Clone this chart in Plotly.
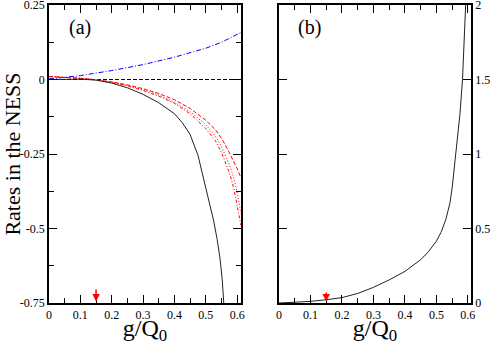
import plotly.graph_objects as go

# panel (a): rates vs g/Q0
g_black = [0, 0.05, 0.1, 0.15, 0.2, 0.25, 0.3, 0.35, 0.4, 0.425, 0.45, 0.475, 0.5, 0.51, 0.525, 0.536, 0.545, 0.552, 0.557]
r_black = [0, 0.001, 0.001, -0.002, -0.012, -0.028, -0.05, -0.078, -0.115, -0.145, -0.185, -0.255, -0.36, -0.41, -0.475, -0.537, -0.6, -0.67, -0.75]

g_red = [0, 0.05, 0.1, 0.15, 0.2, 0.25, 0.3, 0.35, 0.4, 0.45, 0.5, 0.53, 0.55, 0.57, 0.58, 0.59, 0.6, 0.612]
r_red_in = [0.01, 0.008, 0.004, -0.001, -0.01, -0.022, -0.037, -0.056, -0.08, -0.115, -0.165, -0.205, -0.245, -0.3, -0.33, -0.37, -0.42, -0.49]
r_red_mid = [0.01, 0.008, 0.004, -0.001, -0.009, -0.02, -0.034, -0.052, -0.076, -0.108, -0.152, -0.19, -0.225, -0.275, -0.3, -0.335, -0.38, -0.45]
r_red_out = [0.01, 0.008, 0.004, -0.001, -0.008, -0.018, -0.031, -0.047, -0.068, -0.097, -0.137, -0.168, -0.198, -0.235, -0.255, -0.275, -0.3, -0.33]

g_blue = [0, 0.1, 0.2, 0.3, 0.4, 0.5, 0.55, 0.612]
r_blue = [0.002, 0.013, 0.03, 0.05, 0.075, 0.105, 0.125, 0.158]

g_zero = [0, 0.612]
r_zero = [0, 0]

# panel (b)
g_b = [0, 0.05, 0.1, 0.15, 0.2, 0.25, 0.3, 0.35, 0.4, 0.45, 0.475, 0.5, 0.515, 0.53, 0.543, 0.55, 0.556, 0.562, 0.568, 0.575, 0.583, 0.588, 0.593]
r_b = [0, 0.004, 0.011, 0.022, 0.036, 0.064, 0.105, 0.155, 0.212, 0.29, 0.345, 0.415, 0.475, 0.56, 0.67, 0.77, 0.88, 1.0, 1.12, 1.27, 1.5, 1.72, 2.0]

g_arrow = 0.15

xa_ticks = [0, 0.1, 0.2, 0.3, 0.4, 0.5, 0.6]
xa_text = ["0", "0.1", "0.2", "0.3", "0.4", "0.5", "0.6"]
ya_ticks = [0.25, 0, -0.25, -0.5, -0.75]
ya_text = ["0.25", "0", "-0.25", "-0.5", "-0.75"]
yb_ticks = [0, 0.5, 1, 1.5, 2]
yb_text = ["0", "0.5", "1", "1.5", "2"]

font = "Liberation Serif, Times New Roman, serif"

fig = go.Figure()
fig.add_trace(go.Scatter(x=g_zero, y=r_zero, mode="lines", line=dict(color="black", width=1, dash="4px,2px"), xaxis="x", yaxis="y"))
fig.add_trace(go.Scatter(x=g_blue, y=r_blue, mode="lines", line=dict(color="blue", width=1, dash="5px,2px,1px,2px"), xaxis="x", yaxis="y"))
fig.add_trace(go.Scatter(x=g_red, y=r_red_out, mode="lines", line=dict(color="red", width=1, dash="4px,2px"), xaxis="x", yaxis="y"))
fig.add_trace(go.Scatter(x=g_red, y=r_red_mid, mode="lines", line=dict(color="red", width=1, dash="1px,2px"), xaxis="x", yaxis="y"))
fig.add_trace(go.Scatter(x=g_red, y=r_red_in, mode="lines", line=dict(color="red", width=1, dash="3px,2px,1px,2px"), xaxis="x", yaxis="y"))
fig.add_trace(go.Scatter(x=g_black, y=r_black, mode="lines", line=dict(color="#222", width=1), xaxis="x", yaxis="y"))
fig.add_trace(go.Scatter(x=g_b, y=r_b, mode="lines", line=dict(color="#222", width=1), xaxis="x2", yaxis="y2"))

axis_common = dict(
    showgrid=False, zeroline=False, showline=True, linecolor="black", linewidth=1.5,
    mirror="allticks", ticks="inside", ticklen=8, tickcolor="black", tickwidth=1,
    tickfont=dict(family=font, size=12, color="black"), automargin=False,
    ticklabeloverflow="allow",
)

fig.update_layout(
    width=491, height=345,
    margin=dict(l=49, r=20, t=5, b=42),
    paper_bgcolor="white", plot_bgcolor="white",
    showlegend=False,
    font=dict(family=font, color="black"),
    xaxis=dict(axis_common, domain=[0, 0.455], range=[0, 0.612],
               tickvals=xa_ticks, ticktext=xa_text,
               minor=dict(ticks="inside", ticklen=5, dtick=0.05, tickcolor="black"),
               title=dict(text="g/Q<sub>0</sub>", font=dict(family=font, size=24), standoff=0)),
    yaxis=dict(axis_common, domain=[0, 1], range=[-0.75, 0.25],
               tickvals=ya_ticks, ticktext=ya_text,
               minor=dict(ticks="inside", ticklen=5, dtick=0.125, tick0=0, tickcolor="black"),
               title=dict(text="Rates in the NESS", font=dict(family=font, size=22), standoff=4)),
    xaxis2=dict(axis_common, domain=[0.545, 1], range=[0, 0.61], anchor="y2",
                tickvals=xa_ticks, ticktext=xa_text,
                minor=dict(ticks="inside", ticklen=5, dtick=0.05, tickcolor="black"),
                title=dict(text="g/Q<sub>0</sub>", font=dict(family=font, size=24), standoff=0)),
    yaxis2=dict(axis_common, domain=[0, 1], range=[0, 2], anchor="x2", side="right",
                tickvals=yb_ticks, ticktext=yb_text),
)

fig.add_annotation(x=0.094, y=0.923, xref="x domain", yref="y domain", text="(a)", showarrow=False,
                   font=dict(family=font, size=20, color="black"), xanchor="left", yanchor="middle")
fig.add_annotation(x=0.089, y=0.923, xref="x2 domain", yref="y2 domain", text="(b)", showarrow=False,
                   font=dict(family=font, size=20, color="black"), xanchor="left", yanchor="middle")

fig.add_annotation(x=g_arrow, y=-0.745, ax=g_arrow, ay=-0.70, xref="x", yref="y", axref="x", ayref="y",
                   showarrow=True, arrowhead=2, arrowsize=1, arrowwidth=1.5, arrowcolor="red", text="")
fig.add_annotation(x=g_arrow, y=0.01, ax=g_arrow, ay=0.08, xref="x2", yref="y2", axref="x2", ayref="y2",
                   showarrow=True, arrowhead=2, arrowsize=1, arrowwidth=1.5, arrowcolor="red", text="")

# the page body has a default 8px margin; drop it so the figure sits at the corner
fig.write_html("out.html", config={"displayModeBar": False},
               post_script="document.body.style.margin='0';")
